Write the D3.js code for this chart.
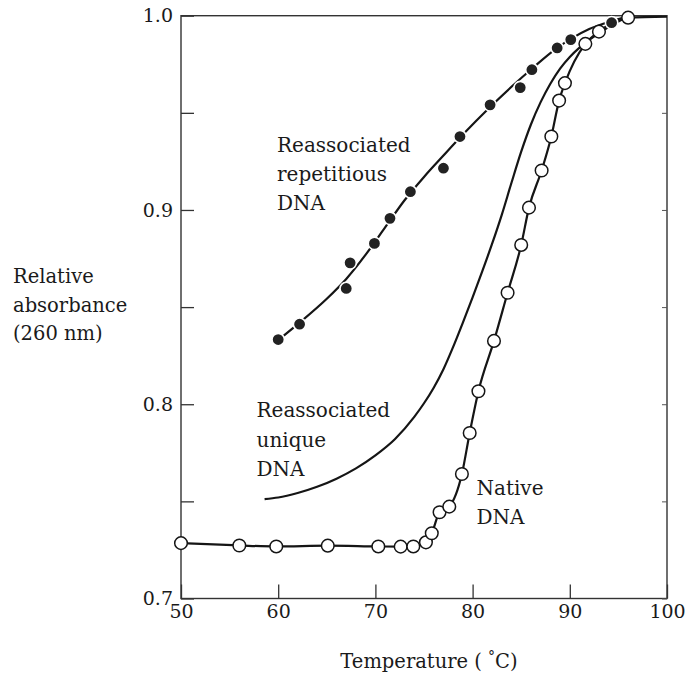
<!DOCTYPE html>
<html>
<head>
<meta charset="utf-8">
<script src="https://cdn.jsdelivr.net/npm/d3@7"></script>
<style>
  html, body { margin: 0; padding: 0; background: #fff; }
  svg { display: block; }
  text { font-family: "DejaVu Serif", serif; fill: #1a1a1a; }
</style>
</head>
<body>
<svg id="chart" width="689" height="675"></svg>
<script>
// ---- data ----
const xTickValues = [50, 60, 70, 80, 90, 100];
const xTickLabels = ["50", "60", "70", "80", "90", "100"];
const yTickValues = [0.7, 0.8, 0.9, 1.0];
const yTickLabels = ["0.7", "0.8", "0.9", "1.0"];
const yMinorTicks = [0.7, 0.75, 0.8, 0.85, 0.9, 0.95, 1.0];

// Native DNA (open circles)
const nativeT = [50, 56.0, 59.8, 65.1, 70.3, 72.6, 73.9, 75.2, 75.8, 76.6, 77.6, 78.9, 79.7, 80.6, 82.2, 83.6, 85.0, 85.8, 87.1, 88.1, 88.9, 89.5, 91.6, 93.0, 96.0];
const nativeA = [0.7285, 0.7273, 0.7268, 0.7272, 0.7268, 0.7267, 0.7268, 0.7289, 0.7336, 0.7444, 0.7473, 0.7641, 0.7852, 0.8067, 0.8326, 0.8574, 0.8820, 0.9012, 0.9203, 0.9378, 0.9563, 0.9653, 0.9855, 0.9918, 0.9990];
const nativeLineEnd = [100, 0.9995];

// Reassociated repetitious DNA (filled circles)
const repT = [60.0, 62.2, 67.0, 67.4, 69.9, 71.5, 73.6, 77.0, 78.7, 81.8, 84.9, 86.1, 88.7, 90.1, 94.3];
const repA = [0.8333, 0.8412, 0.8596, 0.8728, 0.8828, 0.8957, 0.9094, 0.9215, 0.9378, 0.9541, 0.9630, 0.9722, 0.9834, 0.9877, 0.9964];
// smooth curve drawn through repetitious data
const repFitT = [60, 62.2, 65, 67, 69, 71, 73, 75, 77, 79, 81.8, 84, 86.1, 88.7, 90.1, 92, 94.3, 96];
const repFitA = [0.833, 0.842, 0.8543, 0.8645, 0.877, 0.891, 0.905, 0.917, 0.928, 0.9388, 0.953, 0.9634, 0.9727, 0.9834, 0.9881, 0.9932, 0.9972, 0.9995];

// Reassociated unique DNA (curve only)
const uniqT = [58.6, 60, 62, 64, 66, 68, 70, 72, 74, 75, 76, 77, 78, 79, 80, 81, 82, 83, 84, 85, 86, 87, 88, 89, 90, 91, 92, 93, 94, 95, 96];
const uniqA = [0.7512, 0.7520, 0.7543, 0.7575, 0.7617, 0.7670, 0.7737, 0.7820, 0.7935, 0.8005, 0.8085, 0.8180, 0.8295, 0.8420, 0.8550, 0.8685, 0.8825, 0.8975, 0.9140, 0.9300, 0.9440, 0.9555, 0.9650, 0.9728, 0.9788, 0.9836, 0.9876, 0.9910, 0.9942, 0.9970, 0.9995];

// ---- layout ----
const svg = d3.select("#chart");
const pLeft = 181, pRight = 667, pTop = 15.7, pBottom = 598.5;
const x = d3.scaleLinear().domain([50, 100]).range([pLeft, pRight]);
const y = d3.scaleLinear().domain([0.7, 1.0]).range([pBottom, pTop]);

const ink = "#151515";

// frame
svg.append("rect")
  .attr("x", pLeft).attr("y", pTop)
  .attr("width", pRight - pLeft).attr("height", pBottom - pTop)
  .attr("fill", "none").attr("stroke", "#333").attr("stroke-width", 1.4);

// left inner ticks
const leftTicks = d3.axisLeft(y).tickValues(yMinorTicks).tickSize(-13).tickFormat("");
const gL = svg.append("g").attr("transform", `translate(${pLeft},0)`).call(leftTicks);
gL.select(".domain").remove();
gL.selectAll("line").attr("stroke", "#333").attr("stroke-width", 1.3);

// left labels
const leftLabels = d3.axisLeft(y).tickValues(yTickValues).tickSize(0).tickPadding(8)
  .tickFormat((d, i) => yTickLabels[i]);
const gLL = svg.append("g").attr("transform", `translate(${pLeft},0)`).call(leftLabels);
gLL.select(".domain").remove();
gLL.selectAll("text").attr("font-family", "DejaVu Serif").attr("font-size", 19).attr("fill", "#1a1a1a");

// right small ticks
const rightTicks = d3.axisRight(y).tickValues(yMinorTicks).tickSize(-5).tickFormat("");
const gR = svg.append("g").attr("transform", `translate(${pRight},0)`).call(rightTicks);
gR.select(".domain").remove();
gR.selectAll("line").attr("stroke", "#555").attr("stroke-width", 1);

// bottom inner ticks
const bottomTicks = d3.axisBottom(x).tickValues(xTickValues).tickSize(-14).tickFormat("");
const gB = svg.append("g").attr("transform", `translate(0,${pBottom})`).call(bottomTicks);
gB.select(".domain").remove();
gB.selectAll("line").attr("stroke", "#333").attr("stroke-width", 1.3);

// bottom labels
const bottomLabels = d3.axisBottom(x).tickValues(xTickValues).tickSize(0).tickPadding(6)
  .tickFormat((d, i) => xTickLabels[i]);
const gBL = svg.append("g").attr("transform", `translate(0,${pBottom})`).call(bottomLabels);
gBL.select(".domain").remove();
gBL.selectAll("text").attr("font-family", "DejaVu Serif").attr("font-size", 19).attr("fill", "#1a1a1a");

// lines
const line = d3.line().x(d => x(d[0])).y(d => y(d[1])).curve(d3.curveMonotoneX);

const uniqPts = uniqT.map((t, i) => [t, uniqA[i]]);
svg.append("path").datum(uniqPts).attr("d", line)
  .attr("fill", "none").attr("stroke", ink).attr("stroke-width", 2.2);

const repFitPts = repFitT.map((t, i) => [t, repFitA[i]]);
svg.append("path").datum(repFitPts).attr("d", line)
  .attr("fill", "none").attr("stroke", ink).attr("stroke-width", 2.2);

const nativePts = nativeT.map((t, i) => [t, nativeA[i]]).concat([nativeLineEnd]);
svg.append("path").datum(nativePts).attr("d", line)
  .attr("fill", "none").attr("stroke", ink).attr("stroke-width", 2.2);

// repetitious filled dots
svg.append("g").selectAll("circle")
  .data(repT.map((t, i) => [t, repA[i]]))
  .join("circle")
  .attr("cx", d => x(d[0])).attr("cy", d => y(d[1])).attr("r", 6.2)
  .attr("fill", "#222").attr("stroke", "#fff").attr("stroke-width", 1.6);

// native open circles
svg.append("g").selectAll("circle")
  .data(nativeT.map((t, i) => [t, nativeA[i]]))
  .join("circle")
  .attr("cx", d => x(d[0])).attr("cy", d => y(d[1])).attr("r", 6.3)
  .attr("fill", "#fff").attr("stroke", ink).attr("stroke-width", 1.5);

// text blocks
function block(xp, baselines, lines, size) {
  const t = svg.append("g");
  lines.forEach((s, i) => {
    t.append("text").attr("x", xp).attr("y", baselines[i])
      .attr("font-size", size).text(s);
  });
}
block(13, [283, 311.5, 340], ["Relative", "absorbance", "(260 nm)"], 19.5);
block(277, [152, 181, 210], ["Reassociated", "repetitious", "DNA"], 20);
block(256.5, [417, 446.5, 475.5], ["Reassociated", "unique", "DNA"], 20);
block(476.5, [495, 524], ["Native", "DNA"], 20);

// x title
const xt = svg.append("text").attr("x", x(75) + 5).attr("y", 668)
  .attr("text-anchor", "middle").attr("font-size", 19.5);
xt.append("tspan").text("Temperature ( ");
xt.append("tspan").attr("font-size", 14).attr("dy", -7).text("°");
xt.append("tspan").attr("dy", 7).text("C)");
</script>
</body>
</html>
